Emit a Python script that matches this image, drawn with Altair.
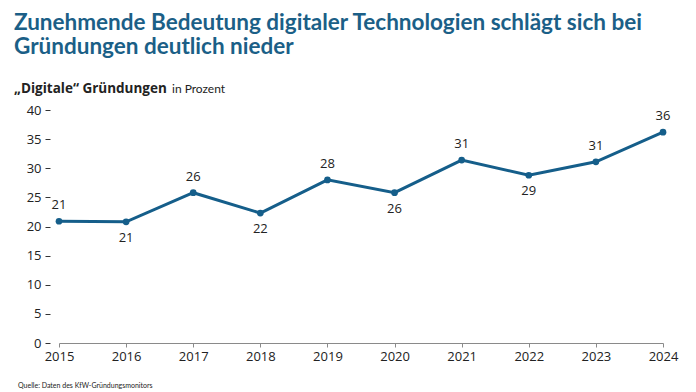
import altair as alt
import pandas as pd

years = ["2015", "2016", "2017", "2018", "2019", "2020", "2021", "2022", "2023", "2024"]
values = [20.9, 20.8, 25.8, 22.3, 28.0, 25.8, 31.4, 28.8, 31.1, 36.2]
labels = ["21", "21", "26", "22", "28", "26", "31", "29", "31", "36"]
label_above = [True, False, True, False, True, False, True, False, True, True]
y_ticks = [0, 5, 10, 15, 20, 25, 30, 35, 40]

title_lines = ["Zunehmende Bedeutung digitaler Technologien schlägt sich bei",
               "Gründungen deutlich nieder"]
subtitle_bold = "„Digitale“ Gründungen"
subtitle_regular = "in Prozent"
source = "Quelle: Daten des KfW-Gründungsmonitors"

BLUE = "#155e8a"
TITLE_BLUE = "#1b5f87"
TEXT = "#222222"
FONT = "Lato"
NUMFONT = "Open Sans"

df = pd.DataFrame({"Jahr": years, "Wert": values, "Label": labels, "oben": label_above})

x = alt.X("Jahr:O", scale=alt.Scale(type="point", padding=0),
          axis=alt.Axis(title=None, labelAngle=0, domainColor="#8a8a8a", tickColor="#8a8a8a",
                        tickSize=4, labelFontSize=13, labelColor=TEXT, labelPadding=3,
                        labelFont=NUMFONT, grid=False))
y = alt.Y("Wert:Q", scale=alt.Scale(domain=[0, 40], nice=False),
          axis=alt.Axis(title=None, values=y_ticks, domain=False, grid=False, tickSize=5,
                        offset=9, tickColor="#333333", labelPadding=4, labelFontSize=13,
                        labelColor=TEXT, labelFont=NUMFONT))

base = alt.Chart(df)
line = base.mark_line(color=BLUE, strokeWidth=3).encode(x=x, y=y)
pts = base.mark_circle(color=BLUE, size=45, opacity=1).encode(x=x, y=y)
lab_up = base.transform_filter("datum.oben").mark_text(
    dy=-16, fontSize=13, font=NUMFONT, color=TEXT, baseline="middle").encode(x=x, y=y, text="Label:N")
lab_dn = base.transform_filter("!datum.oben").mark_text(
    dy=16, fontSize=13, font=NUMFONT, color=TEXT, baseline="middle").encode(x=x, y=y, text="Label:N")


def txt(s, px, py, size, bold=False, color=TEXT, font=FONT):
    return alt.Chart(pd.DataFrame({"t": [s]})).mark_text(
        align="left", baseline="alphabetic", fontSize=size,
        fontWeight="bold" if bold else "normal", color=color, font=font
    ).encode(x=alt.value(px), y=alt.value(py), text="t:N")


title = alt.Chart(pd.DataFrame({"i": [0]})).mark_text(
    align="left", baseline="alphabetic", fontSize=22.5, fontWeight="bold",
    color=TITLE_BLUE, font=FONT, lineHeight=24, text=title_lines
).encode(x=alt.value(-45), y=alt.value(-80))
s1 = txt(subtitle_bold, -45, -17, 13.5, True, TEXT, NUMFONT)
s2 = txt(subtitle_regular, 113, -17, 12, False, TEXT)
src = txt(source, -41, 278, 7, False, TEXT)

chart = alt.layer(line, pts, lab_up, lab_dn, title, s1, s2, src).properties(
    width=604, height=233,
    padding={"left": 51, "top": 102, "right": 25, "bottom": 49},
    autosize=alt.AutoSizeParams(type="none"),
).configure_view(stroke=None)

chart.save("out.html", embed_options={"renderer": "svg", "actions": False})
